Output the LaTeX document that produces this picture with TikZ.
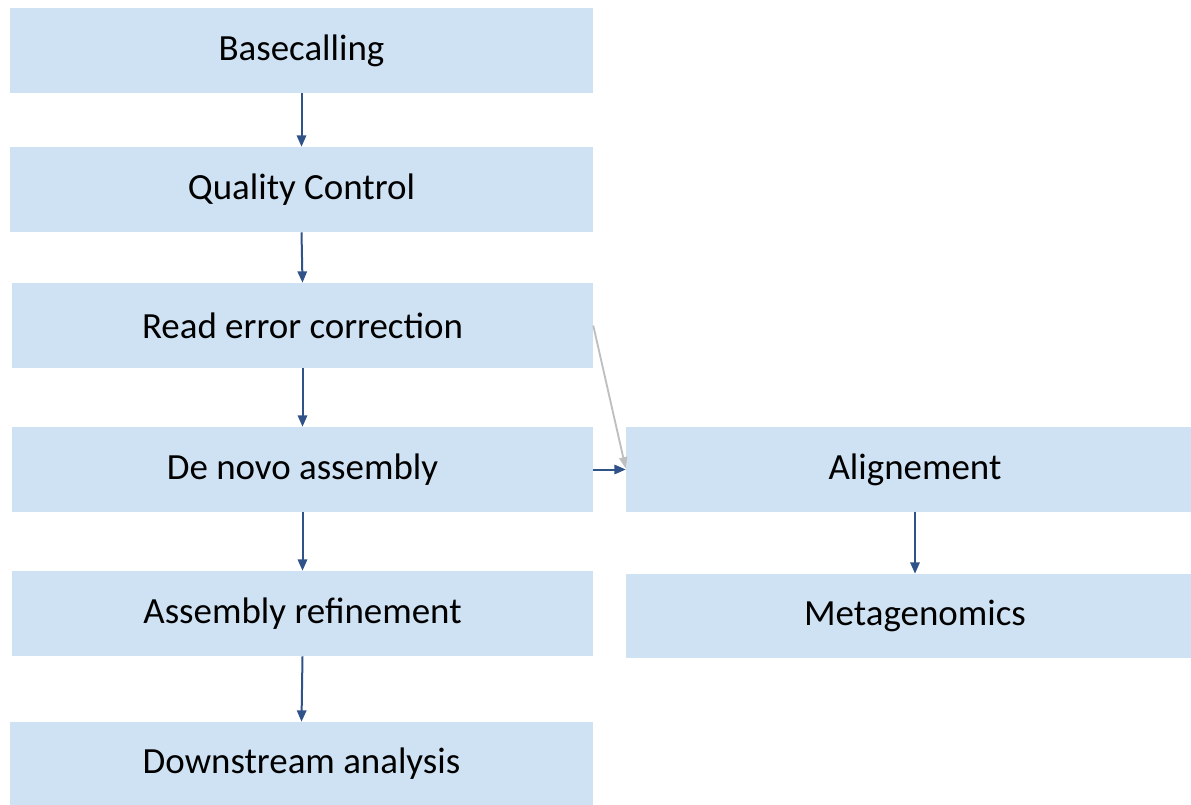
\documentclass[tikz,border=0pt]{standalone}
\usepackage{fontspec}
\setmainfont{Carlito}
\usetikzlibrary{arrows.meta}
\definecolor{boxblue}{HTML}{CFE2F3}
\definecolor{arrowblue}{HTML}{2F5289}
\definecolor{arrowgray}{HTML}{BFBFBF}
\tikzset{
  stepbox/.style={fill=boxblue, draw=none, inner sep=0pt, minimum height=63.75pt,
    font=\fontsize{27.7}{33}\selectfont, text=black},
  wideL/.style={minimum width=437.25pt},
  wideR/.style={minimum width=433.5pt},
  flow/.style={draw=arrowblue, line width=1.5pt, -{Triangle[width=7pt,length=8.5pt]}},
  grayflow/.style={draw=arrowgray, line width=1.4pt, -{Triangle[width=6pt,length=8.5pt]}}
}
\begin{document}
\begin{tikzpicture}[x=0.75pt, y=-0.75pt]
\useasboundingbox (0,0) rectangle (1191,805);
\node[stepbox, wideL] (b1) at (301.5,50.5) {Basecalling};
\node[stepbox, wideL] (b2) at (301.5,189.5) {Quality Control};
\node[stepbox, minimum width=435.75pt] (b3) at (302.5,325.5) {Read error correction};
\node[stepbox, minimum width=435.75pt] (b4) at (302.5,469.5) {De novo assembly};
\node[stepbox, minimum width=435.75pt] (b5) at (302.5,613.5) {Assembly refinement};
\node[stepbox, wideL, minimum height=62.25pt] (b6) at (301.5,763.5) {Downstream analysis};
\node[stepbox, wideR] (b7) at (915,469.5) {Alignement};
\node[stepbox, wideR, minimum height=63pt] (b8) at (915,616) {Metagenomics};
\draw[flow] (b1.south) -- (b2.north);
\draw[flow] (b2.south) -- (b3.north);
\draw[flow] (b3.south) -- (b4.north);
\draw[flow] (b4.south) -- (b5.north);
\draw[flow] (b5.south) -- (b6.north);
\draw[flow] (b4.east) -- (b7.west);
\draw[grayflow] (b3.east) -- ([yshift=0.75pt]b7.west);
\draw[flow] (b7.south) -- (b8.north);
\end{tikzpicture}
\end{document}
